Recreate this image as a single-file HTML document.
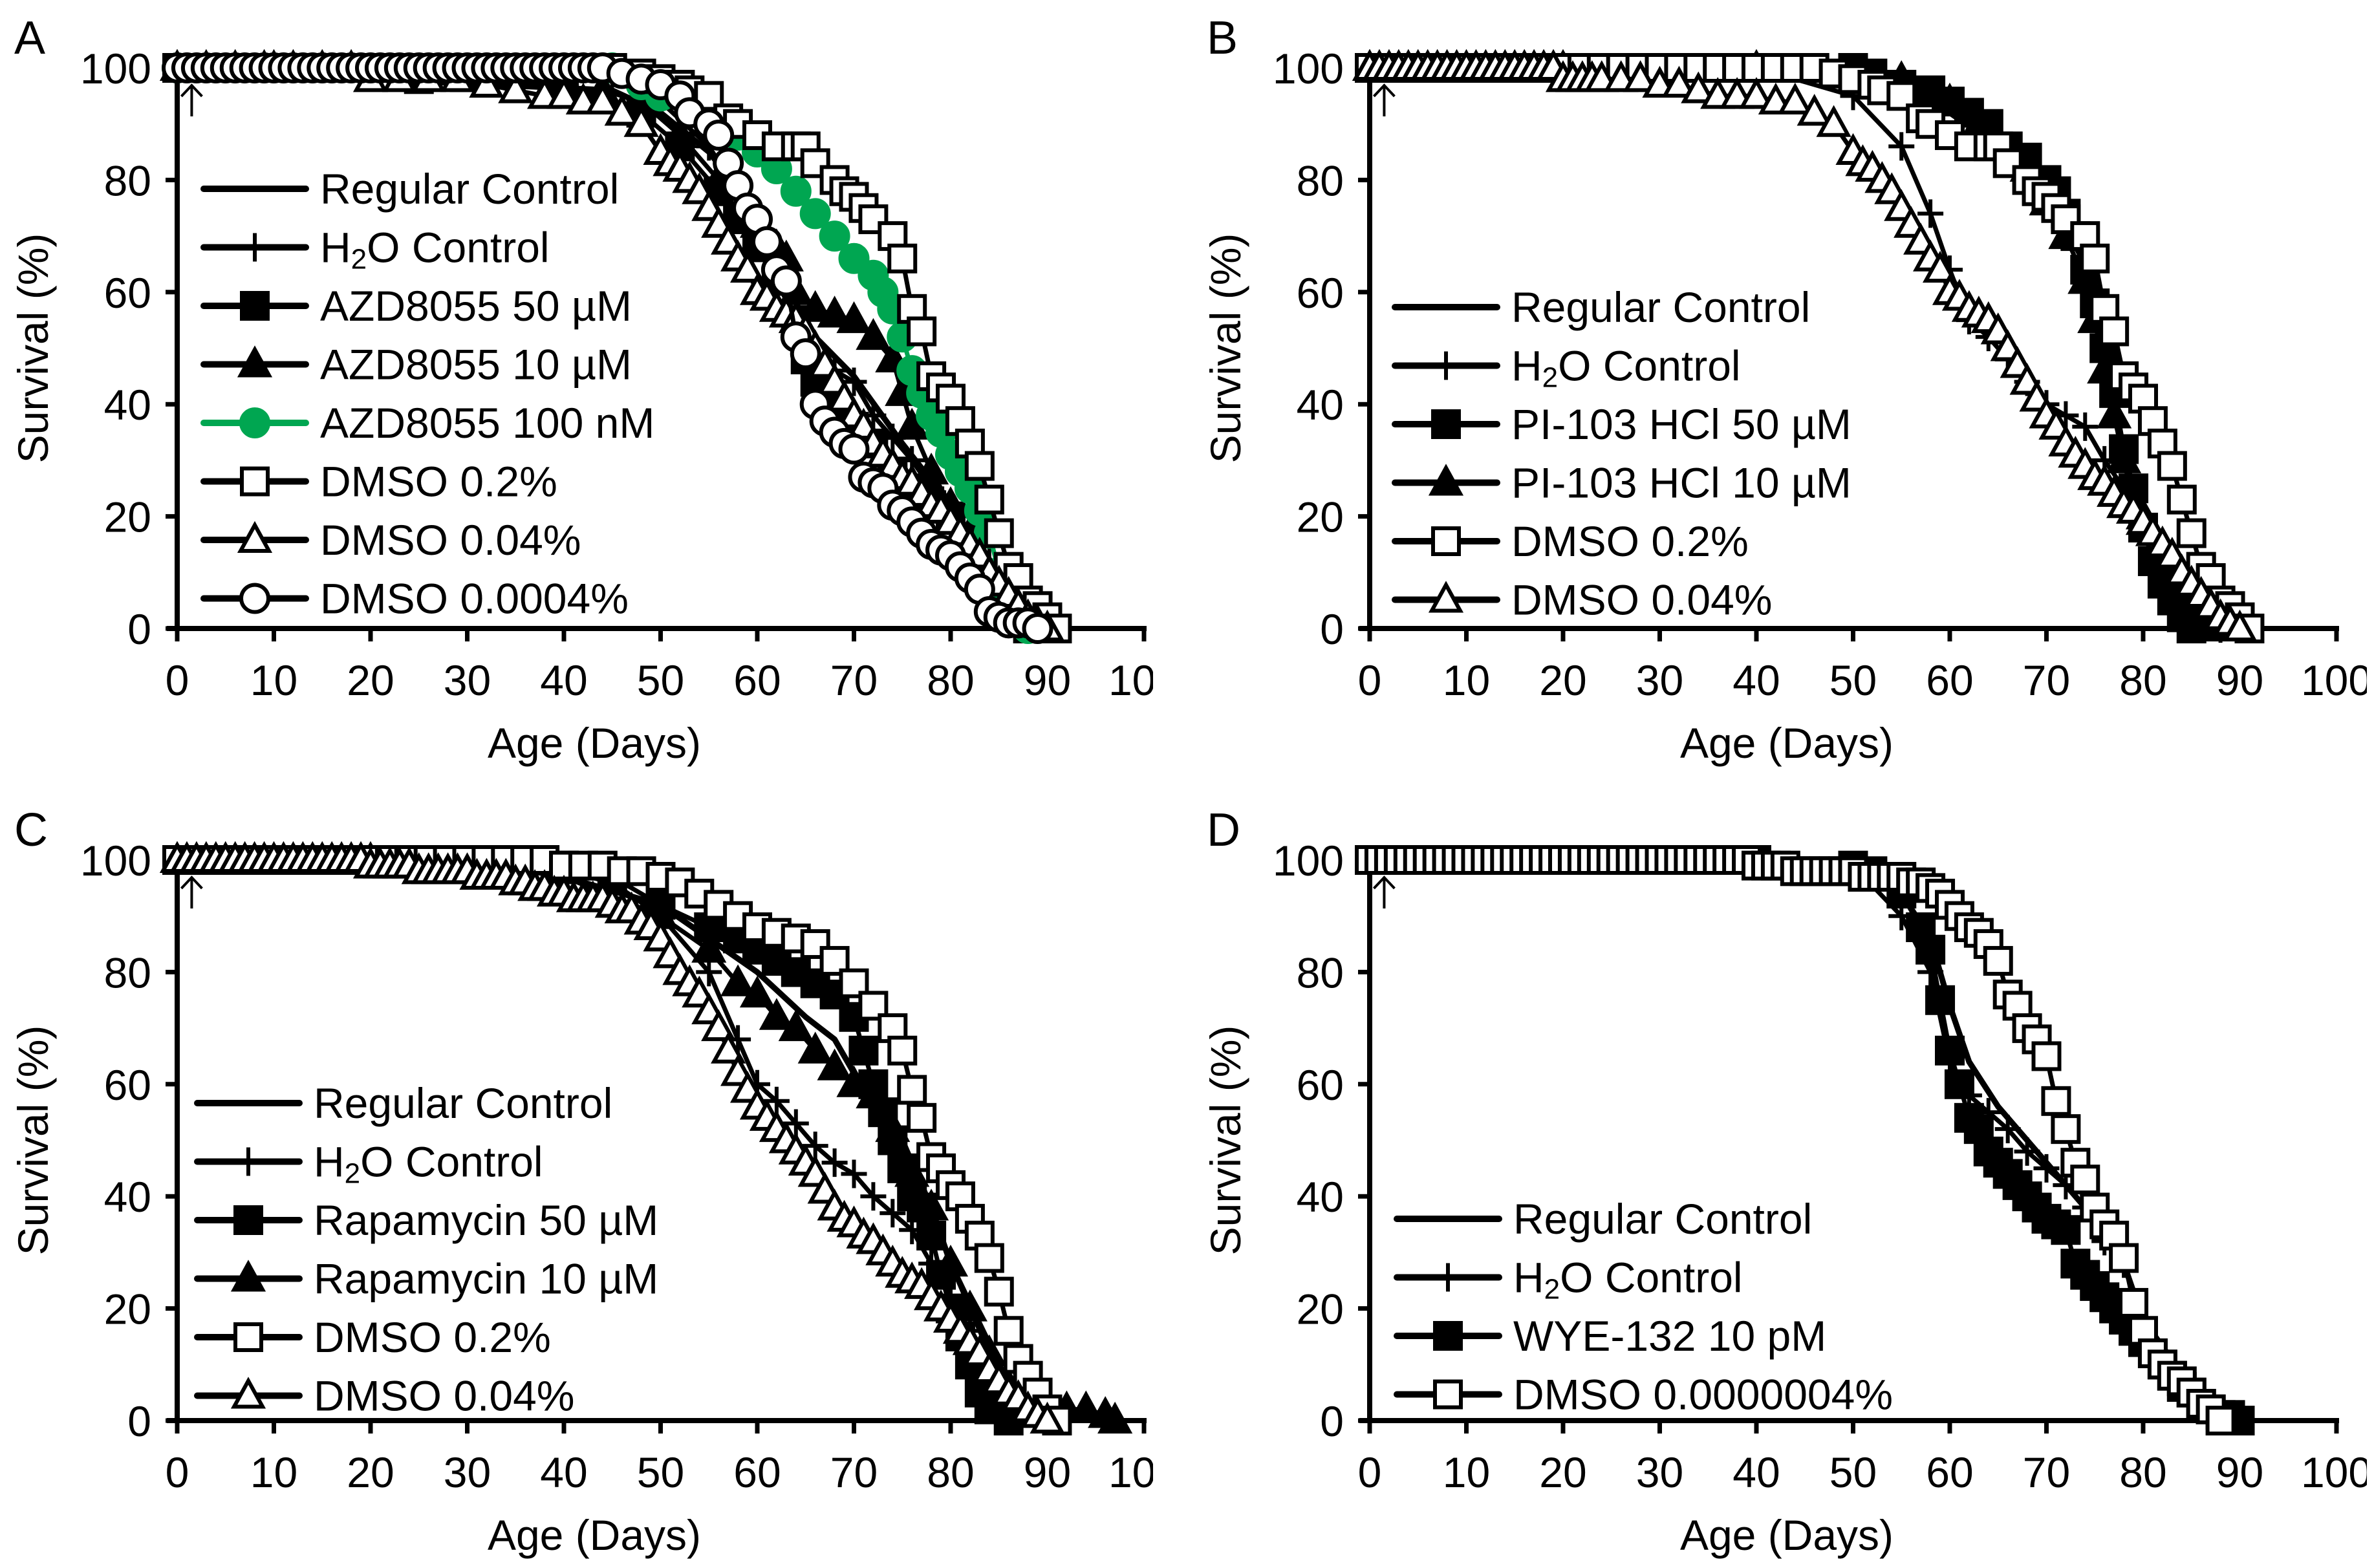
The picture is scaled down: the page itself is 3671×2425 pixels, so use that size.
<!DOCTYPE html>
<html><head><meta charset="utf-8"><style>
html,body{margin:0;padding:0;background:#fff;}
svg{display:block;}
text{font-family:"Liberation Sans",sans-serif;fill:#000;}
</style></head><body>
<svg id="fig" width="3671" height="2425" viewBox="0 0 3671 2425" xmlns="http://www.w3.org/2000/svg">
<defs>
<clipPath id="clipL"><rect x="0" y="0" width="1783" height="2425"/></clipPath>
<clipPath id="clipR"><rect x="1830" y="0" width="1830" height="2425"/></clipPath>
</defs>
</svg>
<script>
// ---------- DATA: [age (days), survival (%)] ----------
const ticksX=[0,10,20,30,40,50,60,70,80,90,100];
const ticksY=[0,20,40,60,80,100];

// Panel A
const A_regular=[[0,100],[2,98],[20,98],[45,96],[50,92],[55,85],[60,74],[62,66],[64,58],[66,52],[70,45],[75,33],[80,22],[85,8],[88,0]];
const A_h2o=[[0,100],[10,100],[20,100],[30,100],[40,100],[45,99],[50,94],[55,86],[58,78],[60,70],[62,64],[64,55],[66,50],[68,46],[70,44],[72,38],[74,34],[76,30],[78,25],[80,22],[82,17],[84,12],[86,6],[88,2],[89,0]];
const A_azd50=[[0,100],[10,100],[25,98],[40,97],[48,92],[52,86],[56,78],[58,73],[60,68],[62,62],[64,55],[65,48],[66,44],[68,40],[70,36],[72,33],[74,28],[76,25],[78,22],[80,20],[82,15],[84,9],[86,4],[88,0]];
const A_azd10=[[0,100],[10,100],[30,98],[44,96],[48,94],[52,88],[56,80],[60,72],[62,68],[63,66],[64,60],[66,57],[68,56],[70,55],[72,52],[74,48],[75,42],[76,36],[78,28],[80,22],[82,17],[84,10],[86,5],[88,2],[89,0]];
const A_azd100n=[[0,100],[45,100],[48,97],[50,95],[53,94],[55,92],[58,88],[60,85],[62,82],[64,78],[66,74],[68,70],[70,66],[72,63],[73,60],[74,57],[75,52],[76,46],[77,42],[78,38],[79,35],[80,31],[81,28],[82,25],[83,21],[84,17],[85,10],[86,5],[87,2],[88,0]];
const A_dmso02=[[0,100],[3,100],[6,100],[9,100],[12,100],[15,100],[18,100],[21,100],[24,100],[27,100],[30,100],[33,100],[36,100],[39,100],[42,100],[45,100],[48,99],[50,98],[52,97],[53,96],[55,95],[57,91],[58,90],[60,88],[62,86],[64,86],[65,86],[66,83],[68,80],[69,78],[70,77],[71,75],[72,73],[74,70],[75,66],[76,57],[77,53],[78,45],[79,43],[80,41],[81,37],[82,33],[83,29],[84,23],[85,17],[86,11],[87,9],[88,5],[89,4],[90,2],[91,0]];
const A_dmso004=[[0,100],[3,100],[6,100],[9,100],[12,100],[15,100],[18,100],[20,98],[23,98],[26,98],[29,98],[32,97],[35,96],[38,95],[40,95],[42,94],[44,94],[46,92],[48,90],[50,85],[51,83],[52,82],[53,80],[54,78],[55,75],[56,72],[57,69],[58,66],[59,64],[60,60],[61,59],[62,57],[63,56],[64,55],[65,53],[66,50],[67,47],[68,44],[69,41],[70,38],[71,36],[72,33],[73,31],[74,29],[75,27],[76,26],[77,24],[78,22],[79,21],[80,19],[81,17],[82,15],[83,13],[84,10],[85,8],[86,6],[87,4],[88,2],[89,1],[90,0]];
const A_dmso00004=[[0,100],[1,100],[2,100],[3,100],[4,100],[5,100],[6,100],[7,100],[8,100],[9,100],[10,100],[11,100],[12,100],[13,100],[14,100],[15,100],[16,100],[17,100],[18,100],[19,100],[20,100],[21,100],[22,100],[23,100],[24,100],[25,100],[26,100],[27,100],[28,100],[29,100],[30,100],[31,100],[32,100],[33,100],[34,100],[35,100],[36,100],[37,100],[38,100],[39,100],[40,100],[41,100],[42,100],[43,100],[44,100],[46,99],[48,98],[50,97],[52,95],[53,92],[55,90],[56,88],[57,83],[58,79],[59,75],[60,73],[61,69],[62,64],[63,62],[64,52],[65,49],[66,40],[67,37],[68,35],[69,33],[70,32],[71,27],[72,26],[73,25],[74,22],[75,21],[76,19],[77,17],[78,15],[79,14],[80,13],[81,11],[82,9],[83,7],[84,3],[85,2],[86,1],[87,1],[88,1],[89,0]];

// Panel B
const B_regular=[[0,100],[2,98],[50,98],[55,96],[60,92],[65,86],[70,78],[74,65],[76,52],[78,30],[80,18],[85,6],[88,0]];
const B_h2o=[[0,100],[10,100],[20,100],[30,100],[40,100],[50,95],[55,86],[58,74],[60,64],[62,55],[64,52],[66,48],[68,44],[70,40],[72,38],[74,36],[76,30],[78,25],[80,18],[82,12],[84,7],[86,3],[88,0]];
const B_pi50=[[0,100],[20,100],[40,100],[50,100],[52,99],[55,97],[58,96],[60,94],[62,92],[64,90],[66,86],[68,84],[70,80],[71,78],[72,74],[73,70],[74,64],[75,58],[76,50],[77,42],[78,32],[79,25],[80,18],[81,12],[82,8],[83,5],[84,2],[85,0]];
const B_pi10=[[0,100],[20,100],[40,100],[50,99],[55,98],[60,94],[63,90],[65,86],[68,82],[70,76],[72,70],[74,62],[75,55],[76,46],[77,38],[78,30],[80,20],[82,12],[84,6],[86,2],[87,0]];
const B_dmso02=[[0,100],[2,100],[4,100],[6,100],[8,100],[10,100],[12,100],[14,100],[16,100],[18,100],[20,100],[22,100],[24,100],[26,100],[28,100],[30,100],[32,100],[34,100],[36,100],[38,100],[40,100],[42,100],[44,100],[46,100],[48,99],[50,98],[52,97],[53,96],[55,95],[57,91],[58,90],[60,88],[62,86],[64,86],[65,86],[66,83],[68,80],[69,78],[70,77],[71,75],[72,73],[74,70],[75,66],[76,57],[77,53],[78,45],[79,43],[80,41],[81,37],[82,33],[83,29],[84,23],[85,17],[86,11],[87,9],[88,5],[89,4],[90,2],[91,0]];
const B_dmso004=[[0,100],[1,100],[2,100],[3,100],[4,100],[5,100],[6,100],[7,100],[8,100],[9,100],[10,100],[11,100],[12,100],[13,100],[14,100],[15,100],[16,100],[17,100],[18,100],[19,100],[20,98],[21,98],[22,98],[23,98],[24,98],[26,98],[28,98],[30,97],[32,97],[34,96],[36,95],[38,95],[40,95],[42,94],[44,94],[46,92],[48,90],[50,85],[51,83],[52,82],[53,80],[54,78],[55,75],[56,72],[57,69],[58,66],[59,64],[60,60],[61,59],[62,57],[63,56],[64,55],[65,53],[66,50],[67,47],[68,44],[69,41],[70,38],[71,36],[72,33],[73,31],[74,29],[75,27],[76,26],[77,24],[78,22],[79,21],[80,19],[81,17],[82,15],[83,13],[84,10],[85,8],[86,6],[87,4],[88,2],[89,1],[90,0]];

// Panel C
const C_regular=[[0,100],[30,100],[40,97],[50,92],[55,86],[60,80],[65,72],[68,68],[70,62],[75,50],[78,38],[80,28],[85,10],[88,0]];
const C_h2o=[[0,100],[10,100],[20,100],[30,100],[40,97],[50,90],[55,80],[58,68],[60,60],[62,57],[64,53],[66,49],[68,46],[70,44],[72,40],[74,37],[76,34],[78,28],[80,22],[82,16],[84,10],[86,5],[88,2],[90,0]];
const C_rapa50=[[0,100],[20,100],[40,99],[45,97],[50,92],[55,88],[58,86],[60,84],[62,82],[64,80],[66,78],[68,76],[70,72],[71,66],[72,60],[73,55],[74,50],[75,45],[76,40],[77,38],[78,33],[79,26],[80,20],[81,15],[82,10],[83,5],[84,2],[86,0]];
const C_rapa10=[[0,100],[20,100],[40,98],[45,96],[50,90],[55,84],[58,78],[60,76],[62,72],[64,70],[66,66],[68,63],[70,60],[72,58],[74,52],[76,44],[78,38],[80,28],[82,20],[84,12],[86,6],[88,3],[90,2],[92,2],[94,2],[96,1],[97,0]];
const C_dmso02=[[0,100],[2,100],[4,100],[6,100],[8,100],[10,100],[12,100],[14,100],[16,100],[18,100],[20,100],[22,100],[24,100],[26,100],[28,100],[30,100],[32,100],[34,100],[36,100],[38,100],[40,99],[42,99],[44,99],[46,98],[48,98],[50,97],[52,96],[54,94],[56,92],[58,90],[60,88],[62,87],[64,86],[66,85],[68,82],[70,78],[72,74],[74,70],[75,66],[76,59],[77,54],[78,47],[79,45],[80,42],[81,40],[82,36],[83,33],[84,29],[85,23],[86,16],[87,11],[88,8],[89,5],[90,2],[91,0]];
const C_dmso004=[[0,100],[1,100],[2,100],[3,100],[4,100],[5,100],[6,100],[7,100],[8,100],[9,100],[10,100],[11,100],[12,100],[13,100],[14,100],[15,100],[16,100],[17,100],[18,100],[19,100],[20,99],[21,99],[22,99],[23,99],[24,99],[25,98],[26,98],[27,98],[28,98],[29,98],[30,98],[31,97],[32,97],[33,97],[34,97],[35,96],[36,96],[37,95],[38,95],[39,94],[40,94],[41,93],[42,93],[43,93],[44,93],[45,92],[46,91],[47,91],[48,89],[49,88],[50,86],[51,83],[52,80],[53,78],[54,76],[55,73],[56,70],[57,66],[58,62],[59,59],[60,56],[61,54],[62,52],[63,50],[64,48],[65,46],[66,44],[67,41],[68,38],[69,36],[70,35],[71,33],[72,32],[73,30],[74,28],[75,26],[76,25],[77,24],[78,22],[79,20],[80,18],[81,16],[82,14],[83,12],[84,9],[85,7],[86,5],[87,4],[88,2],[89,1],[90,0]];

// Panel D
const D_regular=[[0,100],[2,100],[50,99],[55,94],[58,86],[60,74],[62,64],[65,56],[70,46],[75,36],[78,28],[80,18],[85,6],[88,0]];
const D_h2o=[[0,100],[10,100],[20,100],[30,100],[40,100],[50,99],[55,90],[58,80],[60,64],[62,58],[64,55],[66,52],[68,48],[70,45],[72,42],[74,38],[76,32],[78,28],[80,18],[82,12],[84,8],[86,4],[88,2],[90,0]];
const D_wye=[[0,100],[20,100],[40,100],[50,99],[52,98],[55,94],[57,88],[58,84],[59,75],[60,66],[61,60],[62,54],[63,52],[64,48],[65,46],[66,44],[67,42],[68,40],[69,38],[70,36],[71,35],[72,34],[73,28],[74,26],[75,24],[76,22],[77,20],[78,18],[79,16],[80,14],[81,12],[82,10],[83,8],[84,6],[85,5],[86,3],[87,2],[88,1],[89,1],[90,0]];
const D_dmso=[[0,100],[1,100],[2,100],[3,100],[4,100],[5,100],[6,100],[7,100],[8,100],[9,100],[10,100],[11,100],[12,100],[13,100],[14,100],[15,100],[16,100],[17,100],[18,100],[19,100],[20,100],[21,100],[22,100],[23,100],[24,100],[25,100],[26,100],[27,100],[28,100],[29,100],[30,100],[31,100],[32,100],[33,100],[34,100],[35,100],[36,100],[37,100],[38,100],[39,100],[40,99],[41,99],[42,99],[43,99],[44,98],[45,98],[46,98],[47,98],[48,98],[49,98],[50,98],[51,97],[52,97],[53,97],[54,97],[55,97],[56,96],[57,96],[58,95],[59,94],[60,92],[61,90],[62,88],[63,87],[64,85],[65,82],[66,76],[67,74],[68,70],[69,68],[70,65],[71,57],[72,52],[73,46],[74,43],[75,38],[76,35],[77,33],[78,29],[79,21],[80,16],[81,12],[82,10],[83,8],[84,7],[85,5],[86,3],[87,2],[88,0]];

// ---------- RENDERING ----------
const NS="http://www.w3.org/2000/svg";
const svg=document.getElementById('fig');
function mk(tag,attrs,parent){const e=document.createElementNS(NS,tag);for(const k in attrs)e.setAttribute(k,attrs[k]);(parent||svg).appendChild(e);return e;}

const GREEN="#00a651";
const panels=[
 {id:'a',letter:'A',x0:274,y0:972,y100:105,clip:'clipL',legX:315,legY:292,legDy:90.5,
  series:[
   {name:'Regular Control',data:A_regular,m:'none'},
   {name:'H₂O Control',data:A_h2o,m:'plus'},
   {name:'AZD8055 50 µM',data:A_azd50,m:'sqf'},
   {name:'AZD8055 10 µM',data:A_azd10,m:'trif'},
   {name:'AZD8055 100 nM',data:A_azd100n,m:'circf',c:GREEN},
   {name:'DMSO 0.2%',data:A_dmso02,m:'sqo'},
   {name:'DMSO 0.04%',data:A_dmso004,m:'trio'},
   {name:'DMSO 0.0004%',data:A_dmso00004,m:'circo'}]},
 {id:'b',letter:'B',x0:2118,y0:972,y100:105,clip:'clipR',legX:2157,legY:475,legDy:90.5,
  series:[
   {name:'Regular Control',data:B_regular,m:'none'},
   {name:'H₂O Control',data:B_h2o,m:'plus'},
   {name:'PI-103 HCl 50 µM',data:B_pi50,m:'sqf'},
   {name:'PI-103 HCl 10 µM',data:B_pi10,m:'trif'},
   {name:'DMSO 0.2%',data:B_dmso02,m:'sqo'},
   {name:'DMSO 0.04%',data:B_dmso004,m:'trio'}]},
 {id:'c',letter:'C',x0:274,y0:2197,y100:1330,clip:'clipL',legX:305,legY:1706,legDy:90.5,
  series:[
   {name:'Regular Control',data:C_regular,m:'none'},
   {name:'H₂O Control',data:C_h2o,m:'plus'},
   {name:'Rapamycin 50 µM',data:C_rapa50,m:'sqf'},
   {name:'Rapamycin 10 µM',data:C_rapa10,m:'trif'},
   {name:'DMSO 0.2%',data:C_dmso02,m:'sqo'},
   {name:'DMSO 0.04%',data:C_dmso004,m:'trio'}]},
 {id:'d',letter:'D',x0:2118,y0:2197,y100:1330,clip:'clipR',legX:2160,legY:1885,legDy:90.5,
  series:[
   {name:'Regular Control',data:D_regular,m:'none'},
   {name:'H₂O Control',data:D_h2o,m:'plus'},
   {name:'WYE-132 10 pM',data:D_wye,m:'sqf'},
   {name:'DMSO 0.0000004%',data:D_dmso,m:'sqo'}]}
];
const PX_PER_DAY=14.95;

function marker(g,type,x,y,color){
  const col=color||'#000';let e;
  if(type==='sqf'||type==='sqo'){
    e=mk('rect',{x:x-20,y:y-20,width:40,height:40,fill:type==='sqf'?col:'#fff',stroke:col,'stroke-width':6},g);
  }else if(type==='trif'||type==='trio'){
    e=mk('polygon',{points:`${x},${y-23} ${x-22},${y+17} ${x+22},${y+17}`,fill:type==='trif'?col:'#fff',stroke:col,'stroke-width':6},g);
  }else if(type==='circf'||type==='circo'){
    e=mk('circle',{cx:x,cy:y,r:21,fill:type==='circf'?col:'#fff',stroke:col,'stroke-width':6},g);
  }else if(type==='plus'){
    e=mk('path',{d:`M${x-20},${y}H${x+20}M${x},${y-22}V${y+22}`,stroke:col,'stroke-width':6,fill:'none'},g);
  }
  return e;
}

panels.forEach(p=>{
  const sx=d=>p.x0+d*PX_PER_DAY;
  const sy=v=>p.y0-(v/100)*(p.y0-p.y100);
  const pg=mk('g',{'clip-path':`url(#${p.clip})`});
  
  

  const lt=mk('text',{x:p.x0-252,y:p.y100-22,'font-size':72},pg);
  lt.textContent=p.letter;
  
  

  const ax=mk('g',{},pg);
  
  
  mk('line',{x1:p.x0,y1:p.y0+4,x2:p.x0,y2:p.y100,stroke:'#000','stroke-width':8},ax);
  mk('line',{x1:p.x0-16,y1:p.y0,x2:sx(100)+4,y2:p.y0,stroke:'#000','stroke-width':8},ax);
  ticksY.forEach(v=>{
    mk('line',{x1:p.x0-18,y1:sy(v),x2:p.x0,y2:sy(v),stroke:'#000','stroke-width':7},ax);
    const t=mk('text',{x:p.x0-40,y:sy(v)+24,'font-size':66,'text-anchor':'end'},ax);
    t.textContent=v;
    
    
  });
  ticksX.forEach(d=>{
    mk('line',{x1:sx(d),y1:p.y0,x2:sx(d),y2:p.y0+20,stroke:'#000','stroke-width':7},ax);
    const t=mk('text',{x:sx(d),y:p.y0+103,'font-size':66,'text-anchor':'middle'},ax);
    t.textContent=d;
    
    
  });
  const xt=mk('text',{x:p.x0+645,y:p.y0+200,'font-size':66,'text-anchor':'middle'},ax);
  xt.textContent='Age (Days)';
  
  
  const ym=(p.y0+p.y100)/2;
  const yt=mk('text',{x:0,y:0,'font-size':66,'text-anchor':'middle',transform:`translate(${p.x0-200},${ym}) rotate(-90)`},ax);
  yt.textContent='Survival (%)';
  
  
  mk('path',{d:`M${sx(1.5)},${p.y100+75}V${p.y100+27}M${sx(1.5)-16},${p.y100+44}L${sx(1.5)},${p.y100+27}L${sx(1.5)+16},${p.y100+44}`,stroke:'#000','stroke-width':4,fill:'none'},ax);

  p.series.forEach((s,i)=>{
    const g=mk('g',{},pg);
    
    
    const col=s.c||'#000';
    const pts=s.data.map(q=>sx(q[0])+','+sy(q[1])).join(' ');
    mk('polyline',{points:pts,fill:'none',stroke:col,'stroke-width':s.m==='none'?9:7,'stroke-linejoin':'round'},g);
    if(s.m!=='none') s.data.forEach(q=>{const e=marker(g,s.m,sx(q[0]),sy(q[1]),col);
      
      });
  });

  const lg=mk('g',{},pg);
  
  
  p.series.forEach((s,i)=>{
    const y=p.legY+i*p.legDy;const col=s.c||'#000';
    const e=mk('g',{},lg);
    
    
    mk('line',{x1:p.legX,y1:y,x2:p.legX+158,y2:y,stroke:col,'stroke-width':10,'stroke-linecap':'round'},e);
    if(s.m!=='none') marker(e,s.m,p.legX+79,y,col);
    const t=mk('text',{x:p.legX+180,y:y+23,'font-size':66},e);
    if(s.name.indexOf('₂')>=0){
      t.appendChild(document.createTextNode('H'));
      const sub=mk('tspan',{'font-size':44,dy:10},t);sub.textContent='2';
      const rest=mk('tspan',{dy:-10},t);rest.textContent='O Control';
    } else t.textContent=s.name;
  });
});
</script>
</body></html>
